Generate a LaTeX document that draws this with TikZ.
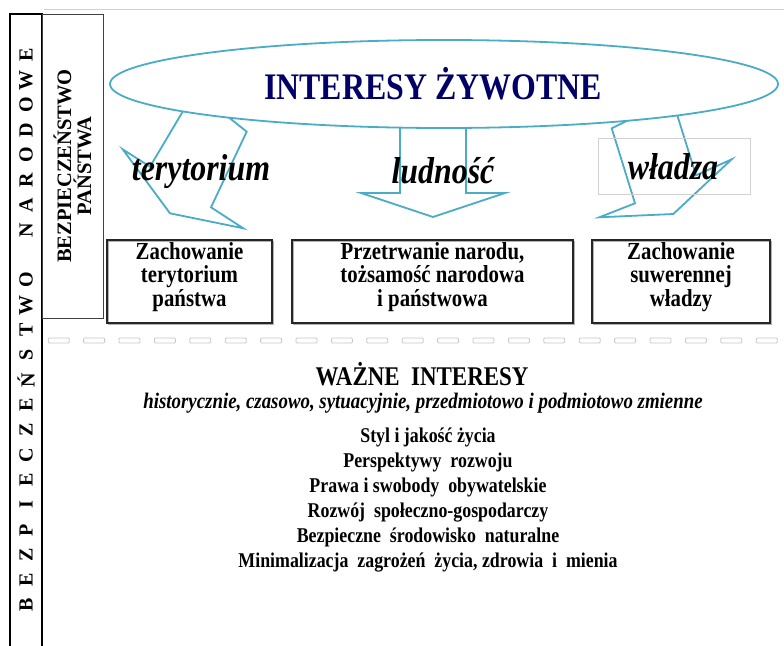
\documentclass[tikz,border=0pt]{standalone}
\usepackage{fontspec}
\setmainfont{Liberation Serif}
\newfontfamily\cond[FakeStretch=0.85]{Liberation Serif}
\usetikzlibrary{shapes.geometric}
\definecolor{aqua}{HTML}{4BACC6}
\definecolor{navyblue}{HTML}{000066}
\begin{document}
\begin{tikzpicture}[x=1pt,y=-1pt,
  blockarrow/.style={draw=aqua, line width=1.8pt, line join=miter},
  boxshadow/.style={preaction={draw=black!30, line width=1.2pt, transform canvas={shift={(1.2pt,-1.2pt)}}}},
  goalbox/.style={draw=black!85, line width=1.3pt, boxshadow, inner sep=0pt},
  goaltext/.style={align=center, font=\cond\fontsize{24.5}{23.5}\selectfont\bfseries, inner sep=0pt},
  arrowlabel/.style={font=\cond\fontsize{37.5}{40}\selectfont\bfseries\itshape, inner sep=0pt},
  listline/.style={font=\cond\fontsize{21}{22}\selectfont\bfseries, inner sep=0pt},
  dashseg/.style={draw=black!22, line width=0.8pt, rounded corners=1pt},
  sideletter/.style={rotate=90, font=\fontsize{20}{20}\selectfont\bfseries, inner sep=0pt},
]
\useasboundingbox (0,0) rectangle (784,645);
\fill[white] (0,0) rectangle (784,645);

% thin frame line along the top
\draw[black!18, line width=0.6pt] (44,9) -- (784,9);

% outer band: national security
\draw[line width=2.4pt] (10,650) -- (10,14) -- (42,14) -- (42,650);
\foreach \ch [count=\i from 0] in {B,E,Z,P,I,E,C,Z,E,Ń,S,T,W,O, ,N,A,R,O,D,O,W,E}
  \node[sideletter] (nl\i) at (26,{605-25*\i}) {\ch};

% inner band: state security
\node[draw=black!75, line width=1pt, minimum width=61, minimum height=304, inner sep=0pt] (pb) at (72.5,166) {};
\node[rotate=90, align=center, font=\fontsize{20.5}{20}\selectfont\bfseries, inner sep=0pt] (pbt) at (pb.center) {BEZPIECZEŃSTWO\\PAŃSTWA};

% block arrows (drawn first, the ellipse covers their upper ends)
\draw[blockarrow] (189,101) -- (150,166.7) -- (122.7,149.3) -- (170,213.3)
  -- (243.3,228.3) -- (211,207.3) -- (246.7,131.7) -- (222,112);
\draw[blockarrow] (400,115) -- (400,193) -- (361,193) -- (433,217)
  -- (505,193) -- (466,193) -- (466,115);
\draw[blockarrow] (645,112) -- (611.7,128.3) -- (635,203.3) -- (599.3,217.3)
  -- (673.3,214) -- (731.7,159.3) -- (696,175.3) -- (675,108);

% vital interests
\node[ellipse, draw=aqua, fill=white, line width=1.8pt, minimum width=668, minimum height=88, inner sep=0pt] (iz) at (444,84) {};
\node[text=navyblue, font=\cond\fontsize{37.5}{40}\selectfont\bfseries, inner sep=0pt] (izt) at (433,84) {INTERESY ŻYWOTNE};

% arrow labels
\node[draw=black!18, line width=0.8pt, minimum width=152, minimum height=56, inner sep=0pt] (wf) at (674,166) {};
\node[arrowlabel] (lt) at (201,172) {terytorium};
\node[arrowlabel] (ll) at (443,171) {ludność};
\node[arrowlabel] (lw) at (673,167) {władza};

% goals
\node[goalbox, minimum width=165, minimum height=83] (b1) at (189.5,281.5) {};
\node[goalbox, minimum width=281, minimum height=83] (b2) at (432.5,281.5) {};
\node[goalbox, minimum width=178, minimum height=83] (b3) at (681,281.5) {};
\node[goaltext] (t1) at (189.5,277) {Zachowanie\\terytorium\\państwa};
\node[goaltext] (t2) at (432.5,277) {Przetrwanie narodu,\\tożsamość narodowa\\i państwowa};
\node[goaltext] (t3) at (681,277) {Zachowanie\\suwerennej\\władzy};

% separator
\foreach \k in {0,...,20}
  \draw[dashseg] ({48.2+35.4*\k},338) rectangle ++(21,5);

% important interests
\node[font=\cond\fontsize{27}{30}\selectfont\bfseries, inner sep=0pt] (wi) at (422,374) {WAŻNE\ \ INTERESY};
\node[font=\cond\fontsize{22.2}{24}\selectfont\bfseries\itshape, inner sep=0pt] (wsub) at (423,403) {historycznie, czasowo, sytuacyjnie, przedmiotowo i podmiotowo zmienne};
\node[listline] (w1) at (428,437) {Styl i jakość życia};
\node[listline] (w2) at (428,462.2) {Perspektywy\ \ rozwoju};
\node[listline] (w3) at (428,487.4) {Prawa i swobody\ \ obywatelskie};
\node[listline] (w4) at (428,512.6) {Rozwój\ \ społeczno-gospodarczy};
\node[listline] (w5) at (428,537.8) {Bezpieczne\ \ środowisko\ \ naturalne};
\node[listline] (w6) at (428,563) {Minimalizacja\ \ zagrożeń\ \ życia,\ zdrowia\ \ i\ \ mienia};
\end{tikzpicture}
\end{document}
